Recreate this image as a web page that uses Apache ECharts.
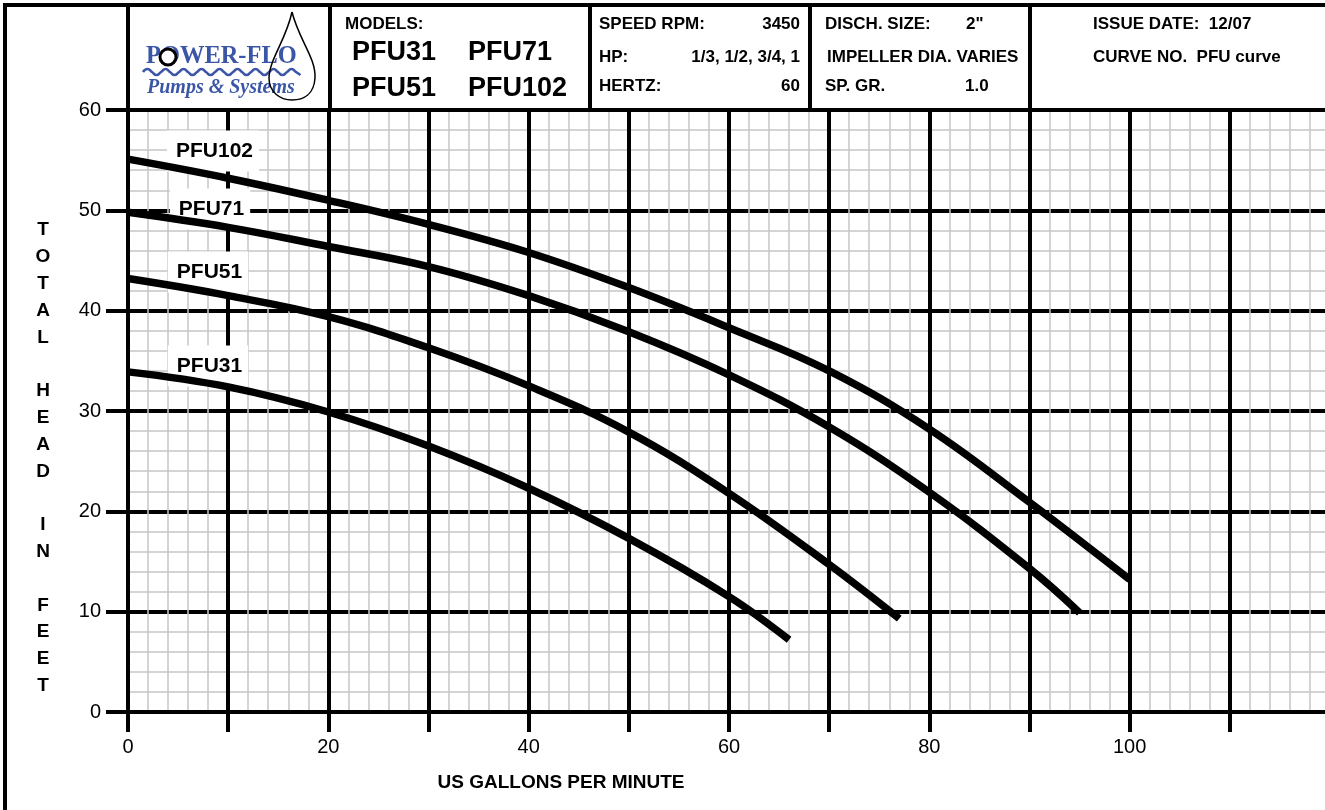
<!DOCTYPE html>
<html>
<head>
<meta charset="utf-8">
<script src="https://cdn.jsdelivr.net/npm/echarts@6/dist/echarts.min.js"></script>
<style>
  html, body { margin: 0; padding: 0; background: #fff; overflow: hidden; width: 1325px; height: 810px; }
  #chart { width: 1335px; height: 810px; }
</style>
</head>
<body>
<div id="chart"></div>
<script>
// pump curves: flow (US gpm) vs total head (ft)
const gpm31 = [0, 10, 20, 30, 40, 50, 60, 66];
const head31 = [33.9, 32.4, 29.9, 26.5, 22.3, 17.3, 11.5, 7.2];
const gpm51 = [0, 10, 20, 30, 40, 50, 60, 70, 77];
const head51 = [43.2, 41.5, 39.4, 36.3, 32.5, 27.9, 21.8, 14.7, 9.3];
const gpm71 = [0, 10, 20, 30, 40, 50, 60, 70, 80, 90, 95];
const head71 = [49.8, 48.3, 46.4, 44.4, 41.5, 37.9, 33.6, 28.4, 21.9, 14.3, 9.9];
const gpm102 = [0, 10, 20, 30, 40, 50, 60, 70, 80, 90, 100];
const head102 = [55.1, 53.2, 51.0, 48.6, 45.8, 42.3, 38.3, 34.0, 28.2, 20.9, 13.2];

const models = ['PFU31', 'PFU51', 'PFU71', 'PFU102'];
const xLabelStep = 20;
const yTitle = ['T', 'O', 'T', 'A', 'L', '', 'H', 'E', 'A', 'D', '', 'I', 'N', '', 'F', 'E', 'E', 'T'];

const FONT = '"Liberation Sans", Arial, sans-serif';
const SERIF = '"Liberation Serif", "DejaVu Serif", serif';
const BLUE = '#3b56a6';

const chart = echarts.init(document.getElementById('chart'));

const pair = (xs, ys) => xs.map((x, i) => [x, ys[i]]);

function curve(name, xs, ys) {
  return {
    name: name,
    type: 'line',
    data: pair(xs, ys),
    smooth: 0.4,
    showSymbol: false,
    symbol: 'none',
    lineStyle: { color: '#000', width: 7.5, cap: 'butt' },
    z: 10
  };
}

// wave under the logo text
const wavePts = [];
for (let x = 143; x <= 302; x += 4.5) {
  const k = Math.round((x - 143) / 4.5) % 4;
  wavePts.push([x, k === 1 ? 69 : k === 3 ? 75 : 72]);
}

function hline(x1, x2, y) {
  return { type: 'line', shape: { x1: x1, y1: y, x2: x2, y2: y }, style: { stroke: '#000', lineWidth: 4 }, z: 20 };
}
function vline(x, y1, y2) {
  return { type: 'line', shape: { x1: x, y1: y1, x2: x, y2: y2 }, style: { stroke: '#000', lineWidth: 4 }, z: 20 };
}
function bez(x1, y1, c1x, c1y, c2x, c2y, x2, y2) {
  return {
    type: 'bezierCurve', z: 31,
    shape: { x1: x1, y1: y1, cpx1: c1x, cpy1: c1y, cpx2: c2x, cpy2: c2y, x2: x2, y2: y2 },
    style: { fill: null, stroke: '#000', lineWidth: 1.5 }
  };
}
function txt(x, y, s, size, opts) {
  return {
    type: 'text', x: x, y: y, z: 30,
    style: Object.assign({
      text: s, fill: '#000', font: 'bold ' + size + 'px ' + FONT,
      textVerticalAlign: 'middle', textAlign: 'left'
    }, opts || {})
  };
}
function curveLabel(x, y, s) {
  return {
    type: 'text', x: x, y: y, z: 3,
    style: {
      text: s, fill: '#000', font: 'bold 21px ' + FONT,
      textAlign: 'center', textVerticalAlign: 'middle',
      backgroundColor: '#fff', padding: [10, 6, 10, 9]
    }
  };
}

const option = {
  animation: false,
  backgroundColor: '#fff',
  grid: { left: 128, right: 5, top: 110, bottom: 98, containLabel: false },
  xAxis: {
    type: 'value', min: 0, max: 120, interval: 10,
    axisLine: { show: true, onZero: false, lineStyle: { color: '#000', width: 4 } },
    axisTick: { show: true, length: 20, lineStyle: { color: '#000', width: 4 } },
    axisLabel: {
      color: '#000', fontSize: 20, fontFamily: FONT, margin: 25,
      formatter: v => (v % xLabelStep === 0 && v <= 100 ? String(v) : '')
    },
    splitLine: { show: true, lineStyle: { color: '#000', width: 4 } },
    minorTick: { show: false, splitNumber: 5 },
    minorSplitLine: { show: true, lineStyle: { color: '#c6c6c6', width: 1.5 } }
  },
  yAxis: {
    type: 'value', min: 0, max: 60, interval: 10,
    axisLine: { show: true, lineStyle: { color: '#000', width: 4 } },
    axisTick: { show: true, length: 22, lineStyle: { color: '#000', width: 4 } },
    axisLabel: { color: '#000', fontSize: 20, fontFamily: FONT, margin: 27 },
    splitLine: { show: true, lineStyle: { color: '#000', width: 4 } },
    minorTick: { show: false, splitNumber: 5 },
    minorSplitLine: { show: true, lineStyle: { color: '#c6c6c6', width: 1.5 } }
  },
  series: [
    curve(models[0], gpm31, head31),
    curve(models[1], gpm51, head51),
    curve(models[2], gpm71, head71),
    curve(models[3], gpm102, head102)
  ],
  graphic: [
    // frame + header boxes
    vline(5, 3, 810),
    hline(3, 1335, 5),
    vline(128, 5, 112),
    vline(330, 5, 112),
    vline(590, 5, 112),
    vline(810, 5, 112),
    vline(1030, 5, 112),
    hline(128, 1335, 110),

    // logo
    { type: 'text', x: 146, y: 56, scaleX: 0.94, z: 30, style: { text: 'POWER-FLO', fill: BLUE, font: 'bold 26px ' + SERIF, textVerticalAlign: 'middle' } },
    { type: 'circle', shape: { cx: 168, cy: 57, r: 8 }, style: { fill: '#fff', stroke: '#000', lineWidth: 3 }, z: 31 },
    { type: 'polyline', shape: { points: wavePts, smooth: 0.6 }, style: { fill: null, stroke: BLUE, lineWidth: 2.5 }, z: 30 },
    { type: 'text', x: 147, y: 88, z: 30, style: { text: 'Pumps & Systems', fill: BLUE, font: 'italic bold 20px ' + SERIF, textVerticalAlign: 'middle' } },
    bez(292, 12, 299, 40, 316, 58, 315, 78),
    bez(315, 78, 314, 94, 304, 100, 292, 100),
    bez(292, 100, 280, 100, 269, 92, 269, 78),
    bez(269, 78, 269, 60, 286, 40, 292, 12),

    // models
    txt(345, 24, 'MODELS:', 17),
    txt(352, 53, 'PFU31', 27),
    txt(468, 53, 'PFU71', 27),
    txt(352, 89, 'PFU51', 27),
    txt(468, 89, 'PFU102', 27),

    // speed
    txt(599, 24, 'SPEED RPM:', 17),
    txt(800, 24, '3450', 17, { textAlign: 'right' }),
    txt(599, 57, 'HP:', 17),
    txt(800, 57, '1/3, 1/2, 3/4, 1', 17, { textAlign: 'right' }),
    txt(599, 86, 'HERTZ:', 17),
    txt(800, 86, '60', 17, { textAlign: 'right' }),

    // discharge
    txt(825, 24, 'DISCH. SIZE:', 17),
    txt(966, 24, '2"', 17),
    txt(827, 57, 'IMPELLER DIA. VARIES', 17),
    txt(825, 86, 'SP. GR.', 17),
    txt(965, 86, '1.0', 17),

    // issue
    txt(1093, 24, 'ISSUE DATE:  12/07', 17),
    txt(1093, 57, 'CURVE NO.  PFU curve', 17),

    // curve labels
    curveLabel(213, 151, 'PFU102'),
    curveLabel(210, 209, 'PFU71'),
    curveLabel(208, 272, 'PFU51'),
    curveLabel(208, 366, 'PFU31'),

    // axis titles
    { type: 'text', x: 43, y: 458, z: 30, style: { text: yTitle.join('\n'), fill: '#000', font: 'bold 19px ' + FONT, lineHeight: 26.8, textAlign: 'center', textVerticalAlign: 'middle' } },
    { type: 'text', x: 561, y: 783, z: 30, style: { text: 'US GALLONS PER MINUTE', fill: '#000', font: 'bold 19px ' + FONT, textAlign: 'center', textVerticalAlign: 'middle' } }
  ]
};

chart.setOption(option);
</script>
</body>
</html>
